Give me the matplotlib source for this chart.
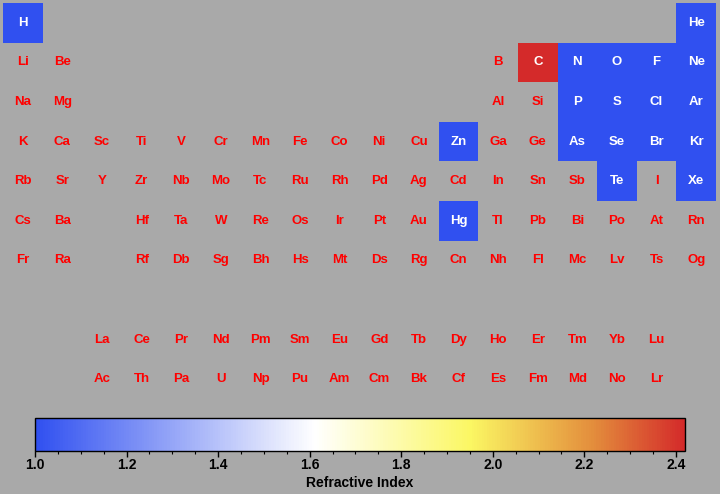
import numpy as np
import matplotlib
matplotlib.use("Agg")
import matplotlib.pyplot as plt
from matplotlib.colors import LinearSegmentedColormap, Normalize
from matplotlib.colorbar import ColorbarBase
from matplotlib.ticker import MultipleLocator

plt.rcParams["font.family"] = ["Liberation Sans", "DejaVu Sans"]

# all elements in order of atomic number
symbols = [
    "H", "He", "Li", "Be", "B", "C", "N", "O", "F", "Ne",
    "Na", "Mg", "Al", "Si", "P", "S", "Cl", "Ar", "K", "Ca",
    "Sc", "Ti", "V", "Cr", "Mn", "Fe", "Co", "Ni", "Cu", "Zn",
    "Ga", "Ge", "As", "Se", "Br", "Kr", "Rb", "Sr", "Y", "Zr",
    "Nb", "Mo", "Tc", "Ru", "Rh", "Pd", "Ag", "Cd", "In", "Sn",
    "Sb", "Te", "I", "Xe", "Cs", "Ba", "La", "Ce", "Pr", "Nd",
    "Pm", "Sm", "Eu", "Gd", "Tb", "Dy", "Ho", "Er", "Tm", "Yb",
    "Lu", "Hf", "Ta", "W", "Re", "Os", "Ir", "Pt", "Au", "Hg",
    "Tl", "Pb", "Bi", "Po", "At", "Rn", "Fr", "Ra", "Ac", "Th",
    "Pa", "U", "Np", "Pu", "Am", "Cm", "Bk", "Cf", "Es", "Fm",
    "Md", "No", "Lr", "Rf", "Db", "Sg", "Bh", "Hs", "Mt", "Ds",
    "Rg", "Cn", "Nh", "Fl", "Mc", "Lv", "Ts", "Og",
]

# elements that have a refractive index
indexed = ["H", "He", "C", "N", "O", "F", "Ne", "P", "S", "Cl", "Ar",
           "Zn", "As", "Se", "Br", "Kr", "Te", "Xe", "Hg"]
refractive_index = [1.000132, 1.000035, 2.417, 1.000298, 1.000271, 1.000195,
                    1.000067, 1.001212, 1.001111, 1.000773, 1.000281,
                    1.00205, 1.001552, 1.000895, 1.001132, 1.000427,
                    1.000991, 1.000702, 1.000933]

vmin, vmax = 1.0, 2.42


def position(z):
    """(row, col) of element z, 1-based, with f-block in rows 9 and 10."""
    if z <= 2:
        return 1, 1 if z == 1 else 18
    starts = [(3, 2), (11, 3), (19, 4), (37, 5), (55, 6), (87, 7)]
    for first, period in reversed(starts):
        if z >= first:
            k = z - first
            break
    if period in (2, 3):
        return period, k + 1 if k < 2 else k + 11
    if period in (4, 5):
        return period, k + 1
    if k < 2:
        return period, k + 1
    if k < 17:
        return period + 3, k + 1
    return period, k - 13


cmap = LinearSegmentedColormap.from_list("ri", [
    (0.0, "#3050f0"),
    (0.43, "#ffffff"),
    (0.67, "#fbf763"),
    (0.86, "#e38d3c"),
    (1.0, "#d42a2a"),
])
norm = Normalize(vmin, vmax)

grid = np.full((10, 18), np.nan)
values = dict(zip(indexed, refractive_index))
for z, sym in enumerate(symbols, start=1):
    r, c = position(z)
    if sym in values:
        grid[r - 1, c - 1] = values[sym]

bg = "#a9a9a9"
fig = plt.figure(figsize=(7.2, 4.94), dpi=100, facecolor=bg)
ax = fig.add_axes([3 / 720, (494 - 399) / 494, 713 / 720, 396 / 494])
ax.set_facecolor(bg)
ax.pcolormesh(np.arange(19) + 0.5, np.arange(11) + 0.5,
              np.ma.masked_invalid(grid), cmap=cmap, norm=norm)
ax.set_xlim(0.5, 18.5)
ax.set_ylim(10.5, 0.5)
ax.axis("off")

for z, sym in enumerate(symbols, start=1):
    r, c = position(z)
    color = "white" if sym in values else "red"
    ax.text(c, r, sym, ha="center", va="center", color=color,
            fontsize=9.5, fontweight="bold")

cax = fig.add_axes([35 / 720, (494 - 451) / 494, 650 / 720, 33 / 494])
cb = ColorbarBase(cax, cmap=cmap, norm=norm, orientation="horizontal")
cb.set_ticks(np.arange(1.0, 2.41, 0.2))
cb.ax.xaxis.set_minor_locator(MultipleLocator(0.05))
cb.ax.tick_params(which="major", length=4, width=1, labelsize=10, pad=1)
cb.ax.tick_params(which="minor", length=2.5, width=0.8)
for lab in cb.ax.get_xticklabels():
    lab.set_fontweight("bold")
cb.set_label("Refractive Index", fontsize=10, fontweight="bold", labelpad=3)
cb.outline.set_linewidth(1)

fig.savefig("out.png", dpi=100, facecolor=bg)
